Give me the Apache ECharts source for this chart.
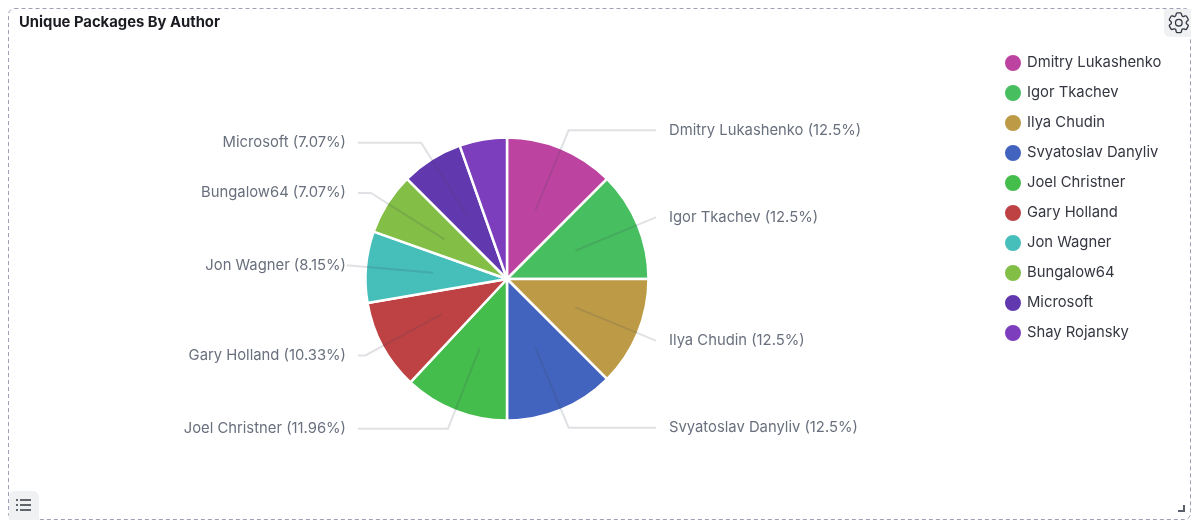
<!DOCTYPE html>
<html>
<head>
<meta charset="utf-8">
<style>
html, body { margin: 0; padding: 0; background: #fff; }
#chart { width: 1200px; height: 528px; }
</style>
<script src="https://cdn.jsdelivr.net/npm/echarts@6/dist/echarts.min.js"></script>
</head>
<body>
<div id="chart"></div>
<script>
var authors = ['Dmitry Lukashenko', 'Igor Tkachev', 'Ilya Chudin', 'Svyatoslav Danyliv', 'Joel Christner', 'Gary Holland', 'Jon Wagner', 'Bungalow64', 'Microsoft', 'Shay Rojansky'];
var shares = [12.5, 12.5, 12.5, 12.5, 11.96, 10.33, 8.15, 7.07, 7.07, 5.42];
var colors = ['#bd43a0', '#47be60', '#bd9b46', '#4263be', '#45bd4c', '#be4244', '#46beba', '#83be46', '#6238ae', '#7d3ebd'];

var cx = 507, cy = 279;
var gearPath = 'M9.594 3.94c.09-.542.56-.94 1.11-.94h2.593c.55 0 1.02.398 1.11.94l.213 1.281c.063.374.313.686.645.87.074.04.147.083.22.127.324.196.72.257 1.075.124l1.217-.456a1.125 1.125 0 011.37.49l1.296 2.247a1.125 1.125 0 01-.26 1.431l-1.003.827c-.293.24-.438.613-.431.992a6.759 6.759 0 010 .255c-.007.378.138.75.43.99l1.005.828c.424.35.534.954.26 1.43l-1.298 2.247a1.125 1.125 0 01-1.369.491l-1.217-.456c-.355-.133-.75-.072-1.076.124a6.57 6.57 0 01-.22.128c-.331.183-.581.495-.644.869l-.213 1.28c-.09.543-.56.941-1.11.941h-2.594c-.55 0-1.02-.398-1.11-.94l-.213-1.281c-.062-.374-.312-.686-.644-.87a6.52 6.52 0 01-.22-.127c-.325-.196-.72-.257-1.076-.124l-1.217.456a1.125 1.125 0 01-1.369-.49l-1.297-2.247a1.125 1.125 0 01.26-1.431l1.004-.827c.292-.24.437-.613.43-.992a6.932 6.932 0 010-.255c.007-.378-.138-.75-.43-.99l-1.004-.828a1.125 1.125 0 01-.26-1.43l1.297-2.247a1.125 1.125 0 011.37-.491l1.216.456c.356.133.751.072 1.076-.124.072-.044.146-.087.22-.128.332-.183.582-.495.644-.869l.214-1.281z M15 12a3 3 0 1 1 -6 0a3 3 0 1 1 6 0z';
var listPath = 'M0 1H2M4 1H15M0 6H2M4 6H15M0 11H2M4 11H15';

// zrender wants the arc flags spelled out
gearPath = gearPath.replace(/(a[\d.]+ [\d.]+ 0 )([01])([01])/g, '$1$2 $3 ');

echarts.graphic.registerShape('gearIcon', echarts.graphic.extendPath(gearPath, {}));
echarts.graphic.registerShape('listIcon', echarts.graphic.extendPath(listPath, {}));

var pieData = authors.map(function (name, i) {
    return { name: name, value: shares[i], itemStyle: { color: colors[i] } };
});

// lines start inside the slice and end short of the label, like the original
function layoutLabel(params) {
    var pts = params.labelLinePoints;
    if (!pts) return {};
    var dx = pts[0][0] - cx, dy = pts[0][1] - cy;
    var len = Math.sqrt(dx * dx + dy * dy);
    var side = dx < 0 ? -1 : 1;
    var start = [cx + dx / len * 74, cy + dy / len * 74];
    var elbow = pts[1];
    var endX = cx + (side < 0 ? -149 : 149);
    var end = [side * (endX - elbow[0]) > 0 ? endX : elbow[0], elbow[1]];
    return {
        x: cx + (side < 0 ? -161 : 162),
        align: side < 0 ? 'right' : 'left',
        labelLinePoints: [start, elbow, end]
    };
}

var myChart = echarts.init(document.getElementById('chart'));
myChart.setOption({
    animation: false,
    backgroundColor: '#fff',
    textStyle: { fontFamily: 'Inter' },
    title: {
        text: 'Unique Packages By Author',
        left: 19,
        top: 15,
        padding: 0,
        textStyle: { fontFamily: 'Inter', fontSize: 14.8, fontWeight: 700, color: '#1a1c21' }
    },
    legend: {
        orient: 'vertical',
        left: 1003,
        top: 53,
        padding: 0,
        icon: 'circle',
        itemWidth: 18,
        itemHeight: 18,
        itemGap: 10,
        selectedMode: false,
        textStyle: { fontFamily: 'Inter', fontSize: 14.8, color: '#343741' },
        data: authors
    },
    graphic: [
        { type: 'rect', z: 0, shape: { x: 8.5, y: 8.5, width: 1182, height: 511, r: 6 }, style: { fill: 'none', stroke: '#9f9fb8', lineWidth: 1, lineDash: [4, 3] } },
        { type: 'rect', z: 1, shape: { x: 1164, y: 9, width: 27, height: 28, r: [0, 0, 0, 6] }, style: { fill: '#f0f1f3' } },
        { type: 'gearIcon', z: 2, x: 1165.6, y: 9.5, scaleX: 1.1, scaleY: 1.1, style: { fill: 'none', stroke: '#343741', lineWidth: 1.2 } },
        { type: 'rect', z: 1, shape: { x: 9, y: 491, width: 30, height: 29, r: [6, 6, 0, 0] }, style: { fill: '#f0f1f3' } },
        { type: 'listIcon', z: 2, x: 16, y: 499, style: { fill: 'none', stroke: '#343741', lineWidth: 1.6 } },
        { type: 'polyline', z: 2, shape: { points: [[1184, 505], [1184, 511], [1178, 511]] }, style: { fill: 'none', stroke: '#5a5e6b', lineWidth: 2 } }
    ],
    series: [{
        type: 'pie',
        center: [cx, cy],
        radius: 141.5,
        startAngle: 90,
        clockwise: true,
        itemStyle: { borderColor: '#fff', borderWidth: 2.5 },
        label: { show: false },
        labelLine: { show: false },
        data: pieData
    }, {
        // same slices again with no fill: it only carries labels and their lines, which must lie over the colours
        type: 'pie',
        z: 5,
        silent: true,
        center: [cx, cy],
        radius: 141,
        startAngle: 90,
        clockwise: true,
        avoidLabelOverlap: false,
        minShowLabelAngle: 20,
        percentPrecision: 2,
        itemStyle: { color: 'rgba(0,0,0,0)', borderWidth: 0 },
        label: {
            show: true,
            position: 'outside',
            formatter: '{b} ({d}%)',
            fontFamily: 'Inter',
            fontSize: 14.8,
            color: '#69707d'
        },
        labelLine: {
            show: true,
            length: 20,
            length2: 10,
            smooth: false,
            lineStyle: { color: 'rgba(60,70,90,0.16)', width: 2 }
        },
        labelLayout: layoutLabel,
        data: authors.map(function (name, i) { return { name: name, value: shares[i] }; })
    }]
});
</script>
</body>
</html>
